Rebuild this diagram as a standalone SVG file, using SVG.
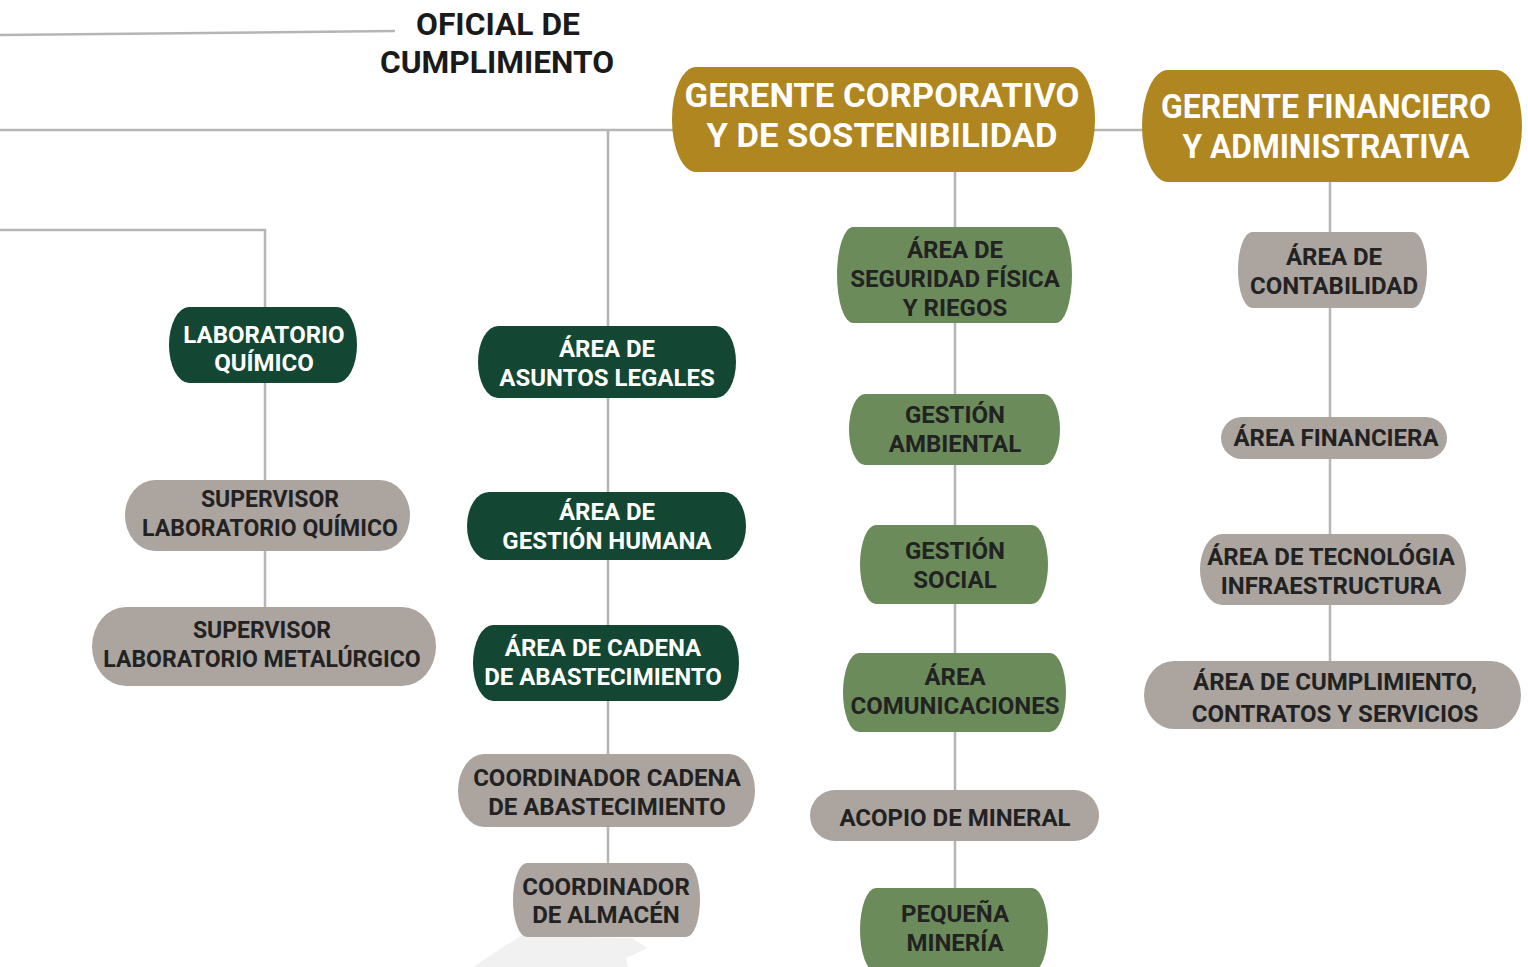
<svg xmlns="http://www.w3.org/2000/svg" width="1528" height="967" viewBox="0 0 1528 967">
<style>
.ln{stroke:#b5b5b5;stroke-width:2.5;fill:none}
.dg{fill:#134734}
.lg{fill:#6b8c5a}
.gr{fill:#aba49f}
.go{fill:#b08620}
text{font-family:Roboto,"Liberation Sans",sans-serif;font-weight:700;text-anchor:middle}
.t{font-size:24px;fill:#222222}
.s{font-size:23px;fill:#222222}
.w{font-size:24px;fill:#ffffff}
.gt{font-size:34px;fill:#ffffff}
.of{font-size:32px;fill:#1a1a1a}
</style>
<rect x="0" y="0" width="1528" height="967" fill="#ffffff"/>
<polygon points="473,967 520,936 632,938 648,948 626,958 628,967" fill="#f1f1f1"/>
<g id="connectors">
<path class="ln" d="M0,35 L395,31"/>
<path class="ln" d="M0,130 H680 M1090,130 H1146"/>
<path class="ln" d="M0,230 H265 V612"/>
<path class="ln" d="M608,130 V865"/>
<path class="ln" d="M955,170 V892"/>
<path class="ln" d="M1330,180 V663"/>
</g>
<g id="oficial">
<text class="of" x="498" y="35" textLength="164" lengthAdjust="spacingAndGlyphs">OFICIAL DE</text>
<text class="of" x="497" y="73" textLength="234" lengthAdjust="spacingAndGlyphs">CUMPLIMIENTO</text>
</g>
<g id="gerente-corporativo">
<rect class="go" x="672" y="67" width="423" height="105" rx="24" ry="52"/>
<text class="gt" x="882" y="107" textLength="395" lengthAdjust="spacingAndGlyphs">GERENTE CORPORATIVO</text>
<text class="gt" x="882" y="147" textLength="351" lengthAdjust="spacingAndGlyphs">Y DE SOSTENIBILIDAD</text>
</g>
<g id="gerente-financiero">
<rect class="go" x="1142" y="70" width="380" height="112" rx="26" ry="56"/>
<text class="gt" x="1326" y="118" textLength="330" lengthAdjust="spacingAndGlyphs">GERENTE FINANCIERO</text>
<text class="gt" x="1326" y="158" textLength="287" lengthAdjust="spacingAndGlyphs">Y ADMINISTRATIVA</text>
</g>
<g id="laboratorio-quimico">
<rect class="dg" x="169" y="307" width="188" height="76" rx="20" ry="38"/>
<text class="w" x="264" y="343">LABORATORIO</text>
<text class="w" x="264" y="371">QUÍMICO</text>
</g>
<g id="supervisor-quimico">
<rect class="gr" x="125" y="480" width="285" height="71" rx="30" ry="35.5"/>
<text class="s" x="270" y="507">SUPERVISOR</text>
<text class="s" x="270" y="536">LABORATORIO QUÍMICO</text>
</g>
<g id="supervisor-metalurgico">
<rect class="gr" x="92" y="607" width="344" height="79" rx="34" ry="39.5"/>
<text class="s" x="262" y="638">SUPERVISOR</text>
<text class="s" x="262" y="667">LABORATORIO METALÚRGICO</text>
</g>
<g id="asuntos-legales">
<rect class="dg" x="478" y="326" width="258" height="72" rx="20" ry="36"/>
<text class="w" x="607" y="357">ÁREA DE</text>
<text class="w" x="607" y="386">ASUNTOS LEGALES</text>
</g>
<g id="gestion-humana">
<rect class="dg" x="467" y="492" width="279" height="68" rx="22" ry="34"/>
<text class="w" x="607" y="520">ÁREA DE</text>
<text class="w" x="607" y="549">GESTIÓN HUMANA</text>
</g>
<g id="cadena-abastecimiento">
<rect class="dg" x="473" y="625" width="266" height="76" rx="20" ry="38"/>
<text class="w" x="603" y="656">ÁREA DE CADENA</text>
<text class="w" x="603" y="685">DE ABASTECIMIENTO</text>
</g>
<g id="coordinador-cadena">
<rect class="gr" x="458" y="754" width="297" height="73" rx="26" ry="36.5"/>
<text class="t" x="607" y="786">COORDINADOR CADENA</text>
<text class="t" x="607" y="815">DE ABASTECIMIENTO</text>
</g>
<g id="coordinador-almacen">
<rect class="gr" x="513" y="863" width="187" height="74" rx="14" ry="37"/>
<text class="t" x="606" y="895">COORDINADOR</text>
<text class="t" x="606" y="923">DE ALMACÉN</text>
</g>
<g id="seguridad-fisica">
<rect class="lg" x="837" y="227" width="235" height="96" rx="16" ry="48"/>
<text class="t" x="955" y="258">ÁREA DE</text>
<text class="t" x="955" y="287">SEGURIDAD FÍSICA</text>
<text class="t" x="955" y="316">Y RIEGOS</text>
</g>
<g id="gestion-ambiental">
<rect class="lg" x="849" y="394" width="211" height="71" rx="16" ry="35.5"/>
<text class="t" x="955" y="423">GESTIÓN</text>
<text class="t" x="955" y="452">AMBIENTAL</text>
</g>
<g id="gestion-social">
<rect class="lg" x="860" y="525" width="188" height="79" rx="16" ry="39.5"/>
<text class="t" x="955" y="559">GESTIÓN</text>
<text class="t" x="955" y="588">SOCIAL</text>
</g>
<g id="area-comunicaciones">
<rect class="lg" x="843" y="653" width="223" height="79" rx="16" ry="39.5"/>
<text class="t" x="955" y="685">ÁREA</text>
<text class="t" x="955" y="714">COMUNICACIONES</text>
</g>
<g id="acopio-mineral">
<rect class="gr" x="810" y="790" width="289" height="51" rx="25" ry="25.5"/>
<text class="t" x="955" y="826">ACOPIO DE MINERAL</text>
</g>
<g id="pequena-mineria">
<rect class="lg" x="860" y="888" width="188" height="84" rx="16" ry="42"/>
<text class="t" x="955" y="922">PEQUEÑA</text>
<text class="t" x="955" y="951">MINERÍA</text>
</g>
<g id="contabilidad">
<rect class="gr" x="1238" y="232" width="189" height="76" rx="14" ry="38"/>
<text class="t" x="1334" y="265">ÁREA DE</text>
<text class="t" x="1334" y="294">CONTABILIDAD</text>
</g>
<g id="area-financiera">
<rect class="gr" x="1221" y="417" width="226" height="42" rx="21" ry="21"/>
<text class="t" x="1336" y="446">ÁREA FINANCIERA</text>
</g>
<g id="tecnologia">
<rect class="gr" x="1200" y="534" width="266" height="71" rx="22" ry="35.5"/>
<text class="t" x="1331" y="565">ÁREA DE TECNOLÓGIA</text>
<text class="t" x="1331" y="594">INFRAESTRUCTURA</text>
</g>
<g id="cumplimiento-contratos">
<rect class="gr" x="1144" y="661" width="377" height="68" rx="30" ry="34"/>
<text class="t" x="1335" y="690">ÁREA DE CUMPLIMIENTO,</text>
<text class="t" x="1335" y="722">CONTRATOS Y SERVICIOS</text>
</g>
</svg>
